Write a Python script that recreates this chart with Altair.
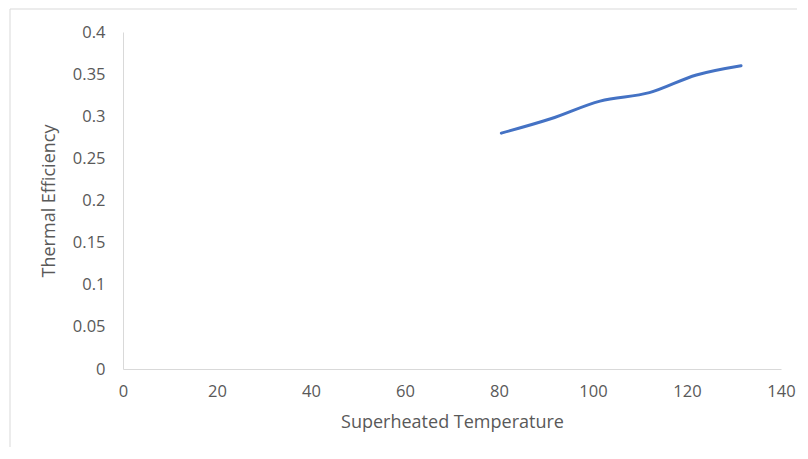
import altair as alt
import pandas as pd

temps = [80.5, 91, 101.5, 112, 122, 131.5]
efficiency = [0.28, 0.297, 0.318, 0.328, 0.349, 0.36]

x_ticks = [0, 20, 40, 60, 80, 100, 120, 140]
y_ticks = [0, 0.05, 0.1, 0.15, 0.2, 0.25, 0.3, 0.35, 0.4]

df = pd.DataFrame({"T": temps, "eff": efficiency})

FONT = "Open Sans"
GREY = "#595959"
W, H = 658, 337

border = alt.Chart(pd.DataFrame({"a": [0]})).mark_rect(
    fill=None, stroke="#d9d9d9", strokeWidth=1
).encode(
    x=alt.value(-113), x2=alt.value(W + 200),
    y=alt.value(-23), y2=alt.value(H + 200),
)

line = alt.Chart(df).mark_line(
    color="#4472C4", strokeWidth=3, interpolate="catmull-rom", strokeCap="round"
).encode(
    x=alt.X("T:Q", scale=alt.Scale(domain=[0, 140], nice=False),
            axis=alt.Axis(values=x_ticks, title="Superheated Temperature",
                          titlePadding=14, labelFlush=False)),
    y=alt.Y("eff:Q", scale=alt.Scale(domain=[0, 0.4], nice=False),
            axis=alt.Axis(values=y_ticks, format="~g", title="Thermal Efficiency",
                          titlePadding=14, labelFlush=False)),
)

chart = alt.layer(border, line).properties(
    width=W, height=H,
    autosize=alt.AutoSizeParams(type="none"),
    padding={"left": 115, "top": 24, "right": 16, "bottom": 78},
).configure_view(stroke=None).configure_axis(
    grid=False, ticks=False, domainColor="#d9d9d9", domainWidth=1,
    labelFont=FONT, labelFontSize=16.5, labelColor=GREY,
    titleFont=FONT, titleFontSize=18, titleColor=GREY, titleFontWeight="normal",
).configure_axisX(labelPadding=14).configure_axisY(labelPadding=18)

chart.save("out.html", embed_options={"renderer": "svg", "actions": False})
